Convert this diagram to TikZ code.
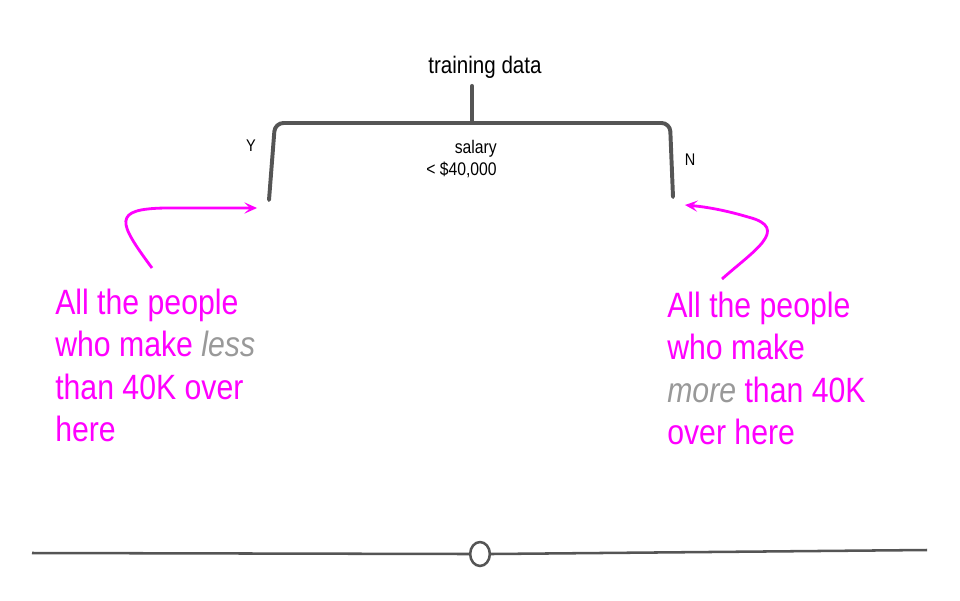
\documentclass[tikz,border=0pt]{standalone}
\usepackage{fontspec}
\setmainfont[FakeStretch=0.86]{Liberation Sans}
\usetikzlibrary{arrows.meta,shapes.geometric}
\definecolor{treegray}{HTML}{555555}
\definecolor{notepink}{HTML}{FF00FF}
\definecolor{wordgray}{HTML}{999999}
\begin{document}
\begin{tikzpicture}[x=0.025cm,y=-0.025cm,
    treeline/.style={draw=treegray,line width=2.8pt,line cap=round},
    pinkarrow/.style={draw=notepink,line width=2pt,-{Stealth[length=9pt,width=8pt,inset=4pt]}},
    note/.style={text=notepink,font=\fontsize{25}{30}\selectfont,align=left,inner sep=0pt,anchor=north west}]

                \useasboundingbox (0,0) rectangle (960,600); %frame
                \node[font=\fontsize{17}{20}\selectfont] (root) at (485,67) {training data}; %root
                \node[font=\fontsize{13}{15.5}\selectfont,align=right,anchor=north east,inner sep=0pt] (split) at (497,140) {salary\\< \$40,000};
                \node[font=\fontsize{12}{14}\selectfont] (yes) at (251,146) {Y};
                \node[font=\fontsize{12}{14}\selectfont] (no) at (690,160) {N};
                \coordinate (stem) at (472,123); %top of bracket
                \coordinate (leftleg) at (269,200); %end of Y branch
                \coordinate (rightleg) at (673,197); %end of N branch

                \draw[treeline] ([yshift=-2pt]root.south -| stem) -- (stem);
                \draw[treeline,rounded corners=6pt] (leftleg) -- (275,123) -- (670,123) -- (rightleg);

                \node[note] (lessnote) at (55,289) {All the people\\who make \textit{\color{wordgray}less}\\than 40K over\\here};
                \node[note] (morenote) at (667,292) {All the people\\who make\\\textit{\color{wordgray}more} than 40K\\over here};

                \coordinate (lesstail) at (152,268); %start of left arrow
                \coordinate (moretail) at (722,279); %start of right arrow
                \draw[pinkarrow] (lesstail) .. controls (118,222) and (112,209) .. (165,208) -- ([xshift=-8.5pt]leftleg |- 0,208);
                \draw[pinkarrow] (moretail) .. controls (752,252) and (792,228) .. (748,217) .. controls (728,211) and (708,207) .. ([xshift=8.5pt]rightleg |- 0,205);

                \node[draw=treegray,line width=1.8pt,ellipse,minimum width=14pt,minimum height=17pt,inner sep=0pt] (knob) at (480,554) {}; %slider knob
                \coordinate (railleft) at (32,553);
                \coordinate (railright) at (927,550);
                \draw[treeline,line cap=butt,line width=1.8pt] (railleft) -- (knob.west);
                \draw[treeline,line cap=butt,line width=1.8pt] (knob.east) -- (railright);

\end{tikzpicture}
\end{document}
